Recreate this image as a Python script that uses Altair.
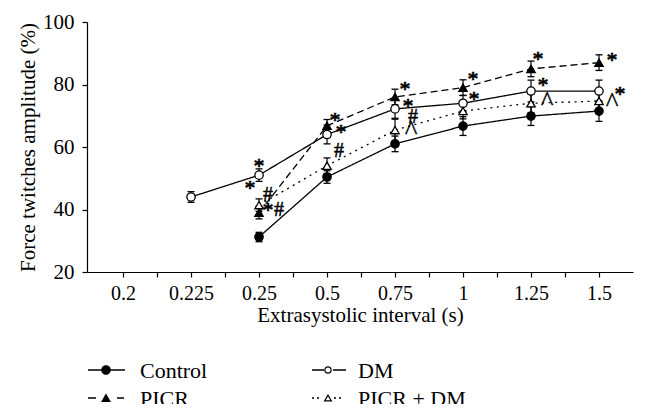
import json
import altair as alt
import pandas as pd

# ---------------- data ----------------
x_labels = ["0.2", "0.225", "0.25", "0.5", "0.75", "1", "1.25", "1.5"]
series_names = ["Control", "DM", "PICR", "PICR + DM"]

control_x = [2, 3, 4, 5, 6, 7]
control_y = [31.2, 50.4, 61.0, 66.7, 69.9, 71.5]
control_err = [1.5, 2.0, 2.5, 3.0, 3.0, 3.3]

dm_x = [1, 2, 3, 4, 5, 6, 7]
dm_y = [44.0, 51.0, 64.0, 72.2, 74.0, 77.9, 77.9]
dm_err = [1.7, 2.0, 3.0, 3.0, 2.5, 3.5, 3.5]

picr_x = [2, 3, 4, 5, 6, 7]
picr_y = [39.0, 66.8, 76.0, 79.0, 85.0, 87.0]
picr_err = [2.0, 2.0, 2.5, 2.5, 2.5, 2.5]

picrdm_x = [2, 3, 4, 5, 6, 7]
picrdm_y = [41.4, 54.0, 65.4, 71.5, 74.0, 74.7]
picrdm_err = [2.0, 2.5, 3.5, 2.5, 3.0, 2.5]

# significance marks: series, x index, symbol
ann_series = ["DM", "DM", "PICR + DM", "PICR + DM", "PICR",
              "PICR", "DM", "PICR + DM",
              "PICR", "DM", "PICR + DM", "PICR + DM",
              "PICR", "DM",
              "PICR", "DM", "PICR + DM",
              "PICR", "PICR + DM", "DM"]
ann_x = [2, 2, 2, 2, 2,
         3, 3, 3,
         4, 4, 4, 4,
         5, 5,
         6, 6, 6,
         7, 7, 7]
ann_text = ["*", "*", "#", "*", "#",
            "*", "*", "#",
            "*", "*", "#", "^",
            "*", "*",
            "*", "*", "^",
            "*", "^", "*"]

# ---------------- styling ----------------
# pixel offsets of each significance mark from its point
ann_offsets = [(0, -13), (-9, 9), (9, -11), (9, 1), (20, -3),
               (8, -10), (14, -7), (12, -16),
               (10, -12), (13, -7), (18, -14), (16, -4),
               (10, -13), (11, -8),
               (7, -14), (12, -10), (16, -6),
               (13, -7), (13, -3), (21, -1)]
point_shapes = ["circle", "circle", "triangle-up", "triangle-up"]
fill_range = ["black", "white", "black", "white"]
dash_range = [[1, 0], [1, 0], [7, 4], [2, 4.5]]

# ---------------- table ----------------
rows = []
for name, xs, ys, es in [("Control", control_x, control_y, control_err),
                         ("DM", dm_x, dm_y, dm_err),
                         ("PICR", picr_x, picr_y, picr_err),
                         ("PICR + DM", picrdm_x, picrdm_y, picrdm_err)]:
    for xv, yv, ev in zip(xs, ys, es):
        rows.append({"series": name, "xi": xv, "y": yv, "lo": yv - ev, "hi": yv + ev})
df = pd.DataFrame(rows)

FONT = "Liberation Serif"
label_expr = "datum.value % 1 == 0 ? " + json.dumps(x_labels) + "[datum.value] : ''"

x_axis = alt.Axis(values=[i * 0.5 for i in range(15)], labelExpr=label_expr,
                  grid=False, tickSize=5, labelPadding=6, labelFontSize=20,
                  titleFontSize=21, titlePadding=1, labelFont=FONT, titleFont=FONT,
                  titleFontWeight="normal", labelColor="black", titleColor="black",
                  labelFlush=False, labelOverlap=False)
y_axis = alt.Axis(values=[20, 40, 60, 80, 100], grid=False, tickSize=5, labelPadding=8,
                  labelFontSize=21, titleFontSize=21, titlePadding=4, labelFont=FONT,
                  titleFont=FONT, titleFontWeight="normal", labelColor="black",
                  titleColor="black", labelFlush=False)
x_scale = alt.Scale(domain=[-0.53, 7.5], nice=False, zero=False)
y_scale = alt.Scale(domain=[20, 100], nice=False, zero=False)
X_TITLE = "Extrasystolic interval (s)"
Y_TITLE = "Force twitches amplitude (%)"


def xe():
    return alt.X("xi:Q", scale=x_scale, axis=x_axis, title=X_TITLE)


def ye(field):
    return alt.Y(field + ":Q", scale=y_scale, axis=y_axis, title=Y_TITLE)


base = alt.Chart(df)

lines = base.mark_line(color="black", strokeWidth=1.3).encode(
    x=xe(), y=ye("y"),
    strokeDash=alt.StrokeDash("series:N", scale=alt.Scale(
        domain=series_names, range=dash_range), legend=None),
)

rules = base.mark_rule(color="black", strokeWidth=1.2).encode(
    x=xe(), y=ye("lo"), y2="hi:Q")
cap_lo = base.mark_tick(orient="horizontal", size=7, thickness=1.3, color="black",
                        opacity=1).encode(x=xe(), y=ye("lo"))
cap_hi = base.mark_tick(orient="horizontal", size=7, thickness=1.3, color="black",
                        opacity=1).encode(x=xe(), y=ye("hi"))

point_layers = []
for name, shp, fc in zip(series_names, point_shapes, fill_range):
    point_layers.append(
        base.transform_filter(alt.datum.series == name).mark_point(
            shape=shp, filled=True, fill=fc, size=70, stroke="black", strokeWidth=1.3,
            opacity=1).encode(x=xe(), y=ye("y")))

lookup = {(r["series"], r["xi"]): r["y"] for r in rows}
glyph_shift = {"*": 0.5, "#": 0.34, "^": 0.48}
glyph_size = {"*": 22, "#": 20, "^": 27}
glyph_stroke = {"*": 0.7, "#": 0.5, "^": 0.3}
texts = []
for s, xv, t, (dx, dy) in zip(ann_series, ann_x, ann_text, ann_offsets):
    adf = pd.DataFrame([{"xi": xv, "y": lookup[(s, xv)], "t": t}])
    sz = glyph_size[t]
    texts.append(
        alt.Chart(adf).mark_text(font=FONT, fontSize=sz, fill="black", stroke="black",
                                 strokeWidth=glyph_stroke[t], opacity=0.99,
                                 align="center", baseline="alphabetic", dx=dx,
                                 dy=dy + glyph_shift[t] * sz).encode(
            x=xe(), y=ye("y"), text="t:N"))

# ---------------- legend (drawn below the axis, two columns) ----------------
one = pd.DataFrame({"k": [0]})
leg_col_x = [0, 224]        # entry left edges, px from plot origin
leg_text_off = [53, 47]     # label start from entry left edge
leg_mark_off = [19, 17]     # marker centre from entry left edge
leg_row_y = [348, 376]      # entry centre lines
leg_segments = [[(1, 38)], [(1, 13), (22, 35)], [(1, 9), (30, 37)],
                [(1, 11), (23, 33)]]
leg_seg_dash = [[1, 0], [1, 0], [1, 0], [2, 3]]
leg_marker_size = [70, 40, 60, 45]
leg_layers = []
for i, name in enumerate(series_names):
    col, row = i % 2, i // 2
    cx = leg_col_x[col]
    cy = leg_row_y[row]
    for a, b in leg_segments[i]:
        leg_layers.append(alt.Chart(one).mark_rule(
            color="black", strokeWidth=1.3, strokeDash=leg_seg_dash[i]).encode(
            x=alt.value(cx + a), x2=alt.value(cx + b), y=alt.value(cy)))
    leg_layers.append(alt.Chart(one).mark_point(
        shape=point_shapes[i], filled=True, fill=fill_range[i], stroke="black",
        strokeWidth=1.2, size=leg_marker_size[i], opacity=1).encode(
        x=alt.value(cx + leg_mark_off[col]), y=alt.value(cy)))
    leg_layers.append(alt.Chart(one).mark_text(
        font=FONT, fontSize=22, color="black", align="left", baseline="alphabetic").encode(
        x=alt.value(cx + leg_text_off[col]), y=alt.value(cy + 8), text=alt.value(name)))

chart = alt.layer(lines, rules, cap_lo, cap_hi, *point_layers, *texts, *leg_layers).properties(
    width=546, height=250,
    autosize=alt.AutoSizeParams(type="none"),
    padding={"left": 79, "top": 14, "right": 7, "bottom": 132},
).configure(font=FONT).configure_view(stroke=None).configure_axis(
    domainColor="black", tickColor="black", domainWidth=1.2, tickWidth=1.2,
    labelFont=FONT, titleFont=FONT)

chart.save("out.html", embed_options={"renderer": "svg", "actions": False})
